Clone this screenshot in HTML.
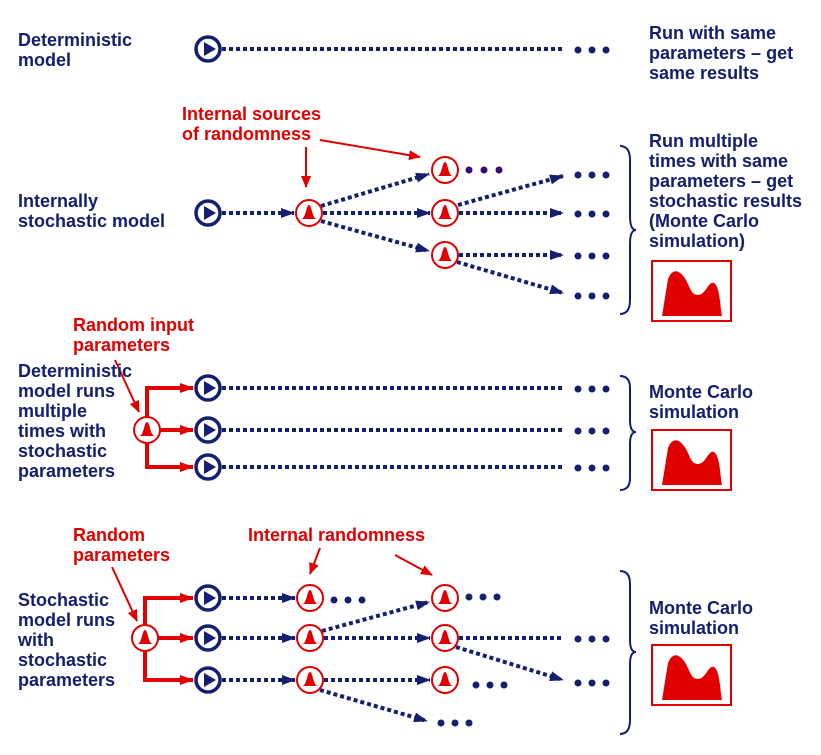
<!DOCTYPE html>
<html><head><meta charset="utf-8"><style>
body{margin:0;background:#fff}
svg text{font-family:"Liberation Sans",sans-serif;font-weight:bold;font-size:18px}
.b{fill:#14206e}.r{fill:#e00000}
</style></head><body>
<svg width="821" height="750" viewBox="0 0 821 750" xmlns="http://www.w3.org/2000/svg">
<defs>
<marker id="na" markerWidth="14" markerHeight="10" refX="13" refY="5" orient="auto" markerUnits="userSpaceOnUse"><path d="M0,0 L14,5 L0,10 Z" fill="#14206e"/></marker>
<marker id="ra" markerWidth="14" markerHeight="10" refX="13" refY="5" orient="auto" markerUnits="userSpaceOnUse"><path d="M0,0 L14,5 L0,10 Z" fill="#e00000"/></marker>
<marker id="ra2" markerWidth="12" markerHeight="10" refX="11" refY="5" orient="auto" markerUnits="userSpaceOnUse"><path d="M0,0 L12,5 L0,10 Z" fill="#e00000"/></marker>
<g id="play"><circle r="12" fill="#fff" stroke="#14206e" stroke-width="3.5"/><path d="M-4,-7 L8,0 L-4,7 Z" fill="#14206e"/></g>
<g id="bell"><circle r="13" fill="#fff" stroke="#e00000" stroke-width="2"/><path d="M-8,6 C-3,6 -3,-8 0,-8 C3,-8 3,6 8,6 Z" fill="#e00000"/></g>
<g id="dots"><circle cx="0" cy="0" r="3.5" fill="#14206e"/><circle cx="14" cy="0" r="3.5" fill="#14206e"/><circle cx="28" cy="0" r="3.5" fill="#14206e"/></g>
<path id="hist" d="M10,55 L16,18 C20,8 26,8 32,16 C38,24 38,34 46,34 C54,34 56,20 62,22 C68,26 68,45 70,55 Z" fill="#e00000"/>
</defs>
<g stroke="#14206e" stroke-width="4" stroke-dasharray="4 3" fill="none">
<line x1="222" y1="49" x2="562" y2="49"/>
<line x1="222" y1="388" x2="562" y2="388"/>
<line x1="222" y1="430" x2="562" y2="430"/>
<line x1="222" y1="467" x2="562" y2="467"/>
<line x1="459" y1="638" x2="563" y2="638"/>
</g>
<g stroke="#14206e" stroke-width="4" stroke-dasharray="4 3" fill="none" marker-end="url(#na)">
<line x1="222" y1="213" x2="294" y2="213"/>
<line x1="321" y1="206" x2="429" y2="174"/>
<line x1="323" y1="213" x2="430" y2="213"/>
<line x1="321" y1="221" x2="429" y2="251"/>
<line x1="458" y1="205" x2="563" y2="176"/>
<line x1="459" y1="213" x2="563" y2="213"/>
<line x1="459" y1="255" x2="563" y2="255"/>
<line x1="457" y1="262" x2="563" y2="293"/>
<line x1="222" y1="598" x2="295" y2="598"/>
<line x1="222" y1="638" x2="295" y2="638"/>
<line x1="222" y1="680" x2="295" y2="680"/>
<line x1="322" y1="631" x2="429" y2="602"/>
<line x1="324" y1="638" x2="430" y2="638"/>
<line x1="324" y1="680" x2="430" y2="680"/>
<line x1="320" y1="690" x2="427" y2="721"/>
<line x1="456" y1="647" x2="563" y2="680"/>
</g>
<use href="#play" x="208" y="49"/>
<use href="#play" x="208" y="213"/>
<use href="#play" x="208" y="388"/><use href="#play" x="208" y="430"/><use href="#play" x="208" y="467"/>
<use href="#play" x="208" y="598"/><use href="#play" x="208" y="638"/><use href="#play" x="208" y="680"/>
<use href="#bell" x="309" y="213"/>
<use href="#bell" x="445" y="170"/><use href="#bell" x="445" y="213"/><use href="#bell" x="445" y="255"/>
<use href="#bell" x="310" y="598"/><use href="#bell" x="310" y="638"/><use href="#bell" x="310" y="680"/>
<use href="#bell" x="445" y="598"/><use href="#bell" x="445" y="638"/><use href="#bell" x="445" y="680"/>
<use href="#dots" x="578" y="50"/>
<g fill="#3a0a6e"><circle cx="469" cy="170" r="3.5"/><circle cx="484" cy="170" r="3.5"/><circle cx="499" cy="170" r="3.5"/></g>
<use href="#dots" x="578" y="175"/><use href="#dots" x="578" y="214"/><use href="#dots" x="578" y="256"/><use href="#dots" x="578" y="296"/>
<use href="#dots" x="578" y="389"/><use href="#dots" x="578" y="431"/><use href="#dots" x="578" y="468"/>
<use href="#dots" x="334" y="600"/><use href="#dots" x="469" y="597"/><use href="#dots" x="578" y="639"/><use href="#dots" x="578" y="683"/>
<use href="#dots" x="476" y="685"/><use href="#dots" x="441" y="723"/>
<g stroke="#e00000" stroke-width="4" fill="none">
<path d="M147,417 V388 H193" marker-end="url(#ra)"/>
<line x1="160" y1="430" x2="193" y2="430" marker-end="url(#ra)"/>
<path d="M147,443 V467 H193" marker-end="url(#ra)"/>
<path d="M145,625 V598 H193" marker-end="url(#ra)"/>
<line x1="158" y1="638" x2="193" y2="638" marker-end="url(#ra)"/>
<path d="M145,651 V680 H193" marker-end="url(#ra)"/>
</g>
<use href="#bell" x="147" y="430"/>
<use href="#bell" x="145" y="638"/>
<g stroke="#e00000" stroke-width="2" fill="none" marker-end="url(#ra2)">
<line x1="306" y1="147" x2="306" y2="187"/>
<line x1="320" y1="140" x2="420" y2="157"/>
<line x1="115" y1="360" x2="139" y2="412"/>
<line x1="112" y1="567" x2="137" y2="621"/>
<line x1="320" y1="548" x2="310" y2="574"/>
<line x1="395" y1="555" x2="432" y2="575"/>
</g>
<g stroke="#14206e" stroke-width="2" fill="none">
<path d="M620,146 Q630,146 630,160 V216 Q630,230 636,230 Q630,230 630,244 V300 Q630,314 620,314"/>
<path d="M620,376 Q630,376 630,388 V420 Q630,432 636,432 Q630,432 630,444 V478 Q630,490 620,490"/>
<path d="M620,571 Q630,571 630,584 V640 Q630,652 636,652 Q630,652 630,664 V720 Q630,734 620,734"/>
</g>
<g stroke="#e00000" stroke-width="2" fill="#fff">
<rect x="652" y="261" width="79" height="60"/>
<rect x="652" y="430" width="79" height="60"/>
<rect x="652" y="645" width="79" height="60"/>
</g>
<use href="#hist" x="652" y="261"/><use href="#hist" x="652" y="430"/><use href="#hist" x="652" y="645"/>
<g class="b">
<text x="18" y="46">Deterministic</text><text x="18" y="66">model</text>
<text x="649" y="39">Run with same</text><text x="649" y="59">parameters – get</text><text x="649" y="79">same results</text>
<text x="18" y="207">Internally</text><text x="18" y="227">stochastic model</text>
<text x="649" y="147">Run multiple</text><text x="649" y="167">times with same</text><text x="649" y="187">parameters – get</text><text x="649" y="207">stochastic results</text><text x="649" y="227">(Monte Carlo</text><text x="649" y="247">simulation)</text>
<text x="18" y="377">Deterministic</text><text x="18" y="397">model runs</text><text x="18" y="417">multiple</text><text x="18" y="437">times with</text><text x="18" y="457">stochastic</text><text x="18" y="477">parameters</text>
<text x="649" y="398">Monte Carlo</text><text x="649" y="418">simulation</text>
<text x="18" y="606">Stochastic</text><text x="18" y="626">model runs</text><text x="18" y="646">with</text><text x="18" y="666">stochastic</text><text x="18" y="686">parameters</text>
<text x="649" y="614">Monte Carlo</text><text x="649" y="634">simulation</text>
</g>
<g class="r">
<text x="182" y="120">Internal sources</text><text x="182" y="140">of randomness</text>
<text x="73" y="331">Random input</text><text x="73" y="351">parameters</text>
<text x="73" y="541">Random</text><text x="73" y="561">parameters</text>
<text x="248" y="541">Internal randomness</text>
</g>
</svg>
</body></html>
